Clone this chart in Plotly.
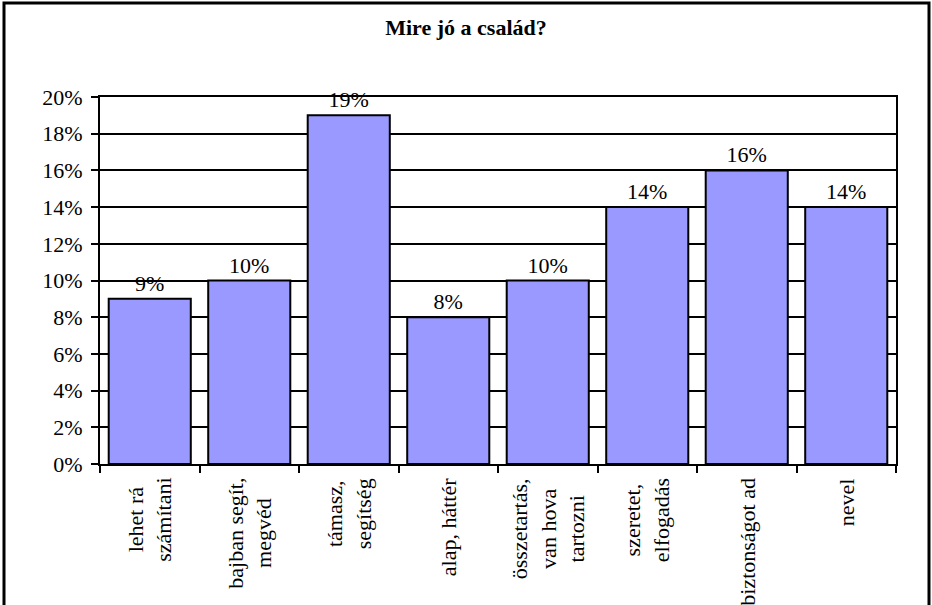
import plotly.graph_objects as go

categories = [
    "lehet rá<br>számítani",
    "bajban segít,<br>megvéd",
    "támasz,<br>segítség",
    "alap, háttér",
    "összetartás,<br>van hova<br>tartozni",
    "szeretet,<br>elfogadás",
    "biztonságot ad",
    "nevel",
]
values = [0.09, 0.10, 0.19, 0.08, 0.10, 0.14, 0.16, 0.14]
title_text = "Mire jó a család?"

W, H = 932, 605
ML, MR, MT, MB = 100, 36, 97, 141
FONT = "Times New Roman, Liberation Serif, serif"
FS = 22

fig = go.Figure()
fig.add_trace(go.Bar(
    x=list(range(len(categories))),
    y=values,
    marker=dict(color="#9999FF", line=dict(color="black", width=2)),
    texttemplate="%{y:.0%}",
    textposition="outside",
    textfont=dict(family=FONT, size=FS, color="black"),
    cliponaxis=False,
    hoverinfo="skip",
))

# category labels (rotated, centered lines)
for i, c in enumerate(categories):
    fig.add_annotation(
        x=i, y=0, xref="x", yref="paper",
        text=c, textangle=-90, showarrow=False,
        xanchor="center", yanchor="top", align="center",
        yshift=-12,
        font=dict(family=FONT, size=FS, color="black"),
    )

pw = W - ML - MR
ph = H - MT - MB
# outer frame
fig.add_shape(
    type="rect", xref="paper", yref="paper",
    x0=(4 - ML) / pw, x1=(W - 3 - ML) / pw,
    y0=-(H + 20 - MT - ph) / ph, y1=(ph + MT - 3) / ph,
    line=dict(color="black", width=3), fillcolor="rgba(0,0,0,0)",
    layer="above",
)

fig.update_layout(
    width=W, height=H,
    margin=dict(l=ML, r=MR, t=MT, b=MB),
    paper_bgcolor="white", plot_bgcolor="white",
    showlegend=False,
    bargap=0.175,
    title=dict(text="<b>" + title_text + "</b>", x=0.5, xref="container",
               xanchor="center", y=1 - 27 / H, yref="container", yanchor="middle",
               font=dict(family=FONT, size=FS, color="black")),
    font=dict(family=FONT, size=FS, color="black"),
)
fig.update_xaxes(
    type="linear", range=[-0.5, len(categories) - 0.5],
    tickvals=[i - 0.5 for i in range(len(categories) + 1)],
    showticklabels=False, ticks="outside", ticklen=7, tickwidth=2, tickcolor="black",
    showline=True, linewidth=2, linecolor="black", mirror=True,
    showgrid=False, zeroline=False,
)
fig.update_yaxes(
    range=[0, 0.2], dtick=0.02, tickformat=".0%",
    ticks="outside", ticklen=7, tickwidth=2, tickcolor="black",
    ticklabelstandoff=4,
    showline=True, linewidth=2, linecolor="black", mirror=True,
    showgrid=True, gridcolor="black", gridwidth=2, zeroline=False,
    tickfont=dict(family=FONT, size=FS, color="black"),
)

fig.write_html(
    "out.html",
    config={"displayModeBar": False},
    post_script="document.body.style.margin='0';document.body.style.overflow='hidden';",
)
